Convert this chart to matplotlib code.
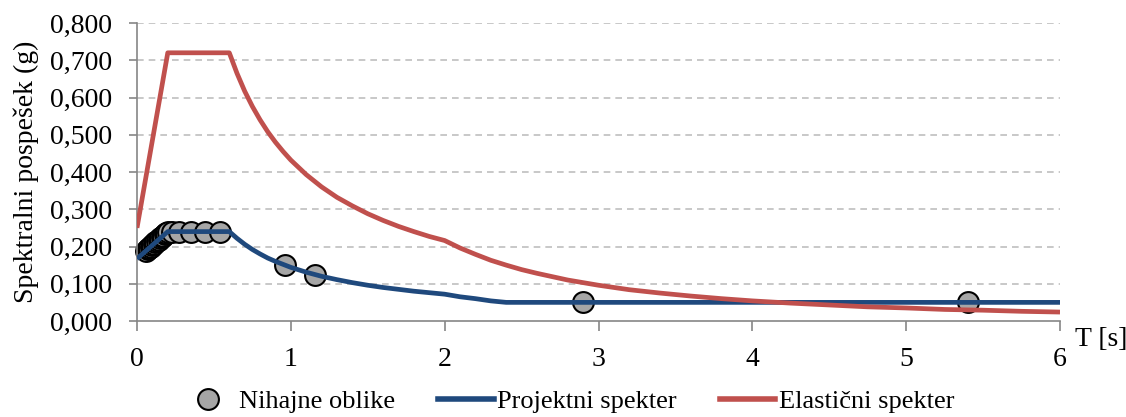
import matplotlib.pyplot as plt
from matplotlib.lines import Line2D

# elasticni spekter (T [s], Se [g])
T_el = [0.0, 0.2, 0.6, 0.65, 0.7, 0.75, 0.8, 0.85, 0.9, 0.95, 1.0, 1.1, 1.2, 1.3, 1.4, 1.5, 1.6,
        1.7, 1.8, 1.9, 2.0, 2.1, 2.2, 2.3, 2.4, 2.5, 2.6, 2.7, 2.8, 2.9, 3.0, 3.2, 3.4, 3.6, 3.8,
        4.0, 4.25, 4.5, 4.75, 5.0, 5.25, 5.5, 5.75, 6.0]
S_el = [0.250, 0.720, 0.720, 0.665, 0.617, 0.576, 0.540, 0.508, 0.480, 0.455, 0.432, 0.393, 0.360,
        0.332, 0.309, 0.288, 0.270, 0.254, 0.240, 0.227, 0.216, 0.196, 0.179, 0.163, 0.150, 0.138,
        0.128, 0.119, 0.110, 0.103, 0.096, 0.084, 0.075, 0.067, 0.060, 0.054, 0.048, 0.043, 0.038,
        0.035, 0.031, 0.029, 0.026, 0.024]

# projektni spekter
T_pr = [0.0, 0.2, 0.6, 0.65, 0.7, 0.75, 0.8, 0.85, 0.9, 0.95, 1.0, 1.1, 1.2, 1.3, 1.4, 1.5, 1.6,
        1.7, 1.8, 1.9, 2.0, 2.1, 2.2, 2.3, 2.4, 3.0, 4.0, 5.0, 6.0]
S_pr = [0.167, 0.240, 0.240, 0.222, 0.206, 0.192, 0.180, 0.169, 0.160, 0.152, 0.144, 0.131, 0.120,
        0.111, 0.103, 0.096, 0.090, 0.085, 0.080, 0.076, 0.072, 0.065, 0.060, 0.054, 0.050, 0.050,
        0.050, 0.050, 0.050]

# nihajne oblike
T_mod = [0.06, 0.07, 0.08, 0.09, 0.10, 0.11, 0.12, 0.13, 0.14, 0.15, 0.16, 0.17, 0.18, 0.19,
         0.20, 0.23, 0.27, 0.35, 0.44, 0.54, 0.96, 1.16, 2.90, 5.40]
S_mod = [0.189, 0.193, 0.196, 0.200, 0.204, 0.207, 0.211, 0.214, 0.218, 0.222, 0.225, 0.229,
         0.233, 0.236, 0.240, 0.240, 0.240, 0.240, 0.240, 0.240, 0.150, 0.124, 0.050, 0.050]

yticks = [0.0, 0.1, 0.2, 0.3, 0.4, 0.5, 0.6, 0.7, 0.8]
xticks = [0, 1, 2, 3, 4, 5, 6]

BLUE = "#1f497d"
RED = "#c0504d"
GRAY = "#a6a6a6"
FS = 20

plt.rcParams['font.family'] = ['Liberation Serif', 'DejaVu Serif']

fig = plt.figure(figsize=(11.26, 4.17), dpi=100)
ax = fig.add_axes([137 / 1126, 1 - 321 / 417, (1060 - 137) / 1126, (321 - 23) / 417])

ax.plot(T_mod, S_mod, "o", ms=15, mfc=GRAY, mec="black", mew=1.5, zorder=2, clip_on=False)
ax.plot(T_pr, S_pr, color=BLUE, lw=3.4, zorder=3, solid_capstyle="butt")
ax.plot(T_el, S_el, color=RED, lw=3.4, zorder=3, solid_capstyle="butt")

ax.set_xlim(0, 6)
ax.set_ylim(0, 0.8)
ax.set_yticks(yticks)
ax.set_yticklabels([f"{v:.3f}".replace(".", ",") for v in yticks])
ax.set_xticks(xticks)
ax.set_xticklabels([str(v) for v in xticks])

for y in yticks[1:]:
    ax.axhline(y, color="#bfbfbf", lw=1.2, ls=(0, (4, 3)), zorder=1)

for s in ["top", "right"]:
    ax.spines[s].set_visible(False)
for s in ["left", "bottom"]:
    ax.spines[s].set_color("#868686")
    ax.spines[s].set_linewidth(1.2)

ax.tick_params(axis="y", direction="out", length=6, width=1.2, color="#868686", labelsize=FS, pad=12)
ax.tick_params(axis="x", direction="out", length=7, width=1.2, color="#868686", labelsize=FS, pad=12)

ax.set_ylabel("Spektralni pospešek (g)", fontsize=FS, labelpad=8)
fig.text(1075 / 1126, 1 - 340 / 417, "T [s]", fontsize=FS, ha="left", va="center")

handles = [
    Line2D([], [], marker="o", ls="none", ms=15, mfc=GRAY, mec="black", mew=1.5),
    Line2D([], [], color=BLUE, lw=4),
    Line2D([], [], color=RED, lw=4),
]
labels = ["Nihajne oblike", "Projektni spekter", "Elastični spekter"]
fig.legend(handles, labels, loc="center", bbox_to_anchor=(567 / 1126, 1 - 401 / 417), ncol=3,
           frameon=False, fontsize=19, handlelength=2.1, handletextpad=0.12, columnspacing=1.65)

fig.savefig("out.png", dpi=100)
